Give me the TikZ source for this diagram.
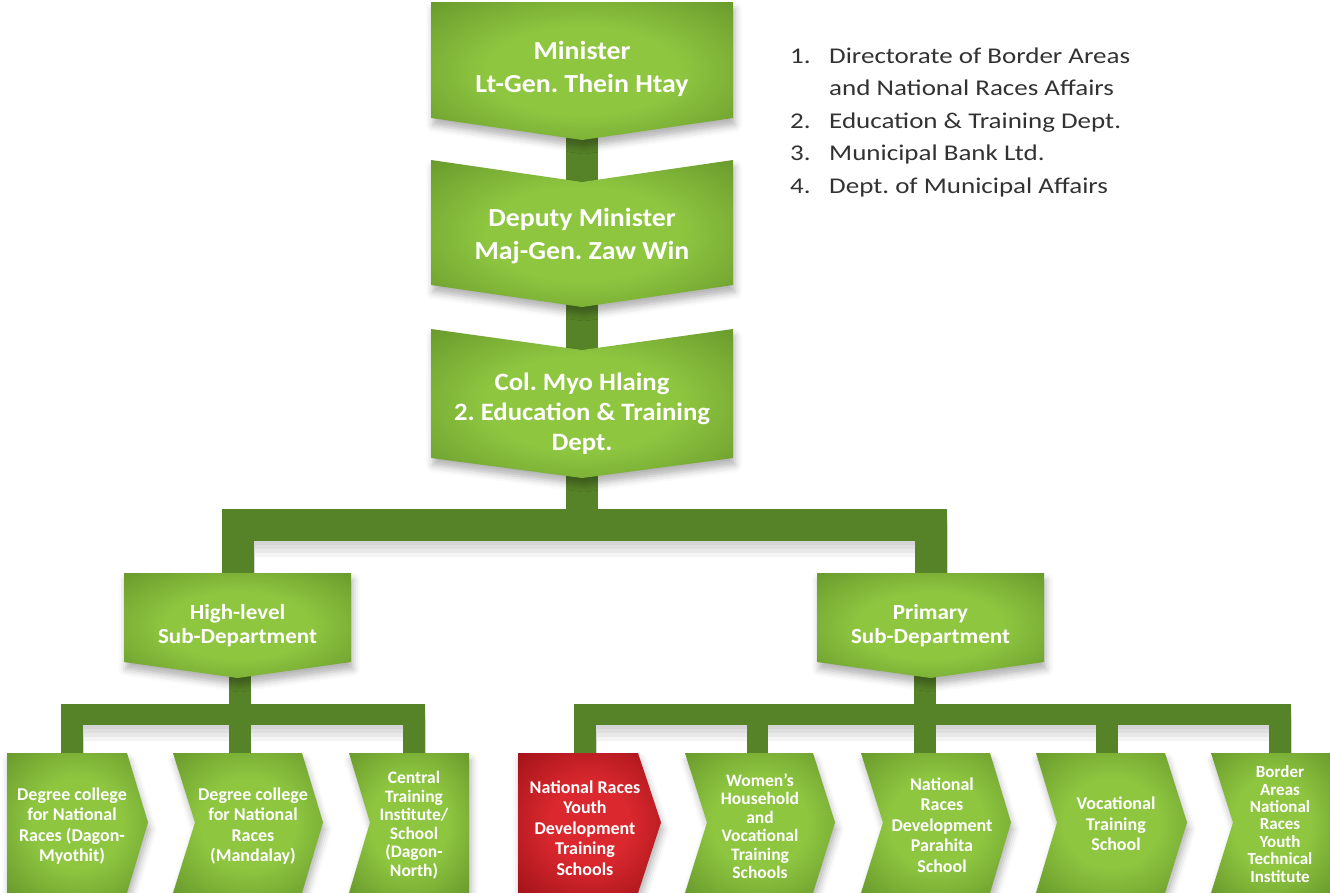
\documentclass[tikz,border=0pt]{standalone}
\usepackage{fontspec}
\setmainfont{Carlito}
\newfontfamily\boxfont[FakeStretch=1.07]{Carlito}
\newfontfamily\listfont[FakeStretch=1.2]{Carlito}
\usetikzlibrary{shadows.blur,calc}
\definecolor{gIn}{RGB}{142,198,64}
\definecolor{gOut}{RGB}{78,122,30}
\definecolor{conn}{RGB}{86,130,40}
\definecolor{rIn}{RGB}{218,40,46}
\definecolor{rOut}{RGB}{125,6,12}
\definecolor{txt}{RGB}{50,50,50}
\pgfdeclarelayer{bg}
\pgfsetlayers{bg,main}
\pgfdeclareradialshading{gsh}{\pgfpoint{0bp}{0bp}}{color(0bp)=(gIn); color(16bp)=(gIn); color(50bp)=(gOut); color(75bp)=(gOut)}
\pgfdeclareradialshading{rsh}{\pgfpoint{0bp}{0bp}}{color(0bp)=(rIn); color(14bp)=(rIn); color(50bp)=(rOut); color(75bp)=(rOut)}
\frenchspacing
\begin{document}
\begin{tikzpicture}[x=1pt,y=-1pt,
  shad/.style={blur shadow={shadow xshift=2pt,shadow yshift=-7pt,shadow blur radius=7pt,shadow opacity=30}},
  gbox/.style={shading=gsh,shad},
  rbox/.style={shading=rsh,shad},
  lbl/.style={text=white,align=center,inner sep=0pt},
  big/.style={lbl,font=\boxfont\fontsize{26}{33}\selectfont\bfseries},
  mid/.style={lbl,font=\boxfont\fontsize{21.5}{24}\selectfont\bfseries},
  small/.style={lbl,font=\fontsize{18}{20.5}\selectfont\bfseries},
  trunk/.style={draw=conn,line width=32pt,line join=miter},
  branch/.style={draw=conn,line width=21.5pt,line join=miter},
  cshad/.style={draw=black,line join=miter,opacity=0.045,transform canvas={shift={(1pt,#1)}}},
  listtxt/.style={text=txt,font=\listfont\fontsize{22.5}{28}\selectfont,anchor=base west,inner sep=0pt}]
\useasboundingbox (0,0) rectangle (1330,892);

% top boxes
\shade[gbox] (431,2) -- (733,2) -- (733,118) -- (582,140) -- (431,118) -- cycle;
\shade[gbox] (431,160) -- (582,182) -- (733,160) -- (733,285) -- (582,307) -- (431,285) -- cycle;
\shade[gbox] (431,329) -- (582,350) -- (733,329) -- (733,458) -- (582,478) -- (431,458) -- cycle;
% sub departments
\shade[gbox] (124,573) -- (351,573) -- (351,662) -- (237.5,678) -- (124,662) -- cycle;
\shade[gbox] (817,573) -- (1044,573) -- (1044,662) -- (930.5,678) -- (817,662) -- cycle;
% bottom row left
\shade[gbox] (7,753) -- (127,753) -- (148,822.5) -- (127,893) -- (7,893) -- cycle;
\shade[gbox] (173,753) -- (302,753) -- (323,822.5) -- (302,893) -- (173,893) -- (195,822.5) -- cycle;
\shade[gbox] (349,753) -- (469,753) -- (469,893) -- (349,893) -- (370,822.5) -- cycle;
% bottom row right
\shade[rbox] (518,753) -- (638,753) -- (661,822.5) -- (638,893) -- (518,893) -- cycle;
\shade[gbox] (685,753) -- (813,753) -- (835,822.5) -- (813,893) -- (685,893) -- (707,822.5) -- cycle;
\shade[gbox] (861,753) -- (990,753) -- (1011,822.5) -- (990,893) -- (861,893) -- (883,822.5) -- cycle;
\shade[gbox] (1036,753) -- (1165,753) -- (1187,822.5) -- (1165,893) -- (1036,893) -- (1057,822.5) -- cycle;
\shade[gbox] (1211,753) -- (1332,753) -- (1332,893) -- (1211,893) -- (1233,822.5) -- cycle;

% labels
\node[big] (t1) at (582,69) {Minister\\Lt-Gen. Thein Htay};
\node[big] (t2) at (582,236) {Deputy Minister\\Maj-Gen. Zaw Win};
\node[lbl,font=\boxfont\fontsize{25}{30}\selectfont\bfseries] (t3) at (582,414) {Col. Myo Hlaing\\2. Education \& Training\\Dept.};
\node[mid] (hl) at (237.5,626) {High-level\\Sub-Department};
\node[mid] (pr) at (930.5,626) {Primary\\Sub-Department};
\node[small] (b1) at (72,826) {Degree college\\for National\\Races (Dagon-\\Myothit)};
\node[small] (b2) at (253,826) {Degree college\\for National\\Races\\(Mandalay)};
\node[lbl,font=\fontsize{17.5}{18.5}\selectfont\bfseries] (b3) at (414,825) {Central\\Training\\Institute/\\School\\(Dagon-\\North)};
\node[small] (r1) at (585,828) {National Races\\Youth\\Development\\Training\\Schools};
\node[lbl,font=\fontsize{17.5}{18.5}\selectfont\bfseries] (r2) at (760,826) {Women’s\\Household\\and\\Vocational\\Training\\Schools};
\node[small] (r3) at (942,825) {National\\Races\\Development\\Parahita\\School};
\node[small] (r4) at (1116,824) {Vocational\\Training\\School};
\node[lbl,font=\fontsize{17}{17.4}\selectfont\bfseries] (r5) at (1280,824) {Border\\Areas\\National\\Races\\Youth\\Technical\\Institute};

% list
\node[listtxt] (n1) at (790,63) {1.};
\node[listtxt] (l1) at (829,63) {Directorate of Border Areas};
\node[listtxt] (l1b) at (829,95) {and National Races Affairs};
\node[listtxt] (n2) at (790,128) {2.};
\node[listtxt] (l2) at (829,128) {Education \& Training Dept.};
\node[listtxt] (n3) at (790,160) {3.};
\node[listtxt] (l3) at (829,160) {Municipal Bank Ltd.};
\node[listtxt] (n4) at (790,193) {4.};
\node[listtxt] (l4) at (829,193) {Dept. of Municipal Affairs};

% junctions
\coordinate (j1) at (582,525);
\coordinate (j2) at (240,714.5);
\coordinate (j3) at (925,714.5);
\coordinate (v2) at (757.5,714.5);
\coordinate (v4) at (1107,714.5);

\begin{pgfonlayer}{bg}
% soft shadows of the connectors
\foreach \s in {-4pt,-8pt,-12pt,-16pt}{
  \draw[cshad=\s,line width=32pt] (hl) |- (j1) -| (pr);
  \draw[cshad=\s,line width=21.5pt] (b1) |- (j2) -| (b3);
  \draw[cshad=\s,line width=21.5pt] (r1) |- (j3) -| (r5);
}
% connectors
\draw[trunk] (t1) -- (j1);
\draw[trunk] (hl) |- (j1) -| (pr);
\draw[branch] (j2 |- hl) -- (j2);
\draw[branch] (b1) |- (j2) -| (b3);
\draw[branch] (j2) -- (j2 |- b2);
\draw[branch] (j3 |- pr) -- (j3);
\draw[branch] (r1) |- (j3) -| (r5);
\draw[branch] (j3) -- (j3 |- r3);
\draw[branch] (v2) -- (v2 |- r2);
\draw[branch] (v4) -- (v4 |- r4);
\end{pgfonlayer}
\end{tikzpicture}
\end{document}
